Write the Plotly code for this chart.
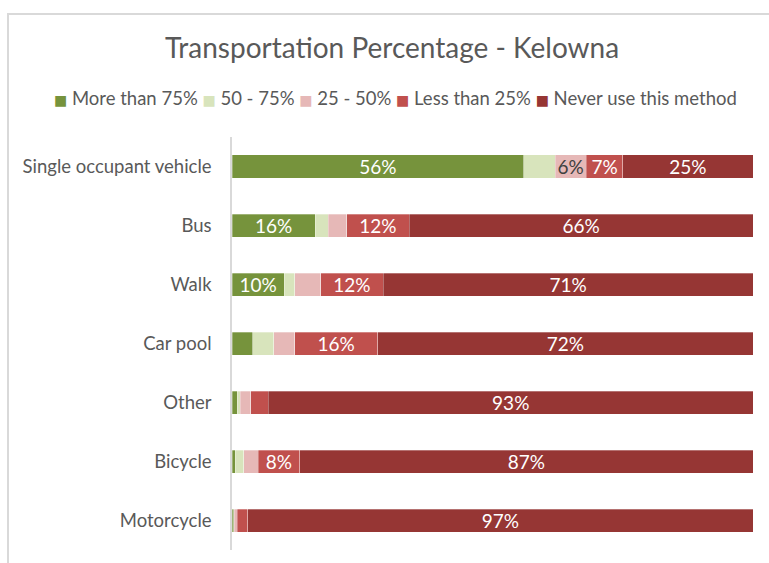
import plotly.graph_objects as go

# Survey: share of respondents by how often they use each transportation mode
categories = [
    "Single occupant vehicle",
    "Bus",
    "Walk",
    "Car pool",
    "Other",
    "Bicycle",
    "Motorcycle",
]

more_than_75 = [56, 16, 10, 4, 1, 0.6, 0.3]
between_50_75 = [6, 2.5, 2, 4, 0.6, 1.7, 0.1]
between_25_50 = [6, 3.5, 5, 4, 2, 2.7, 0.6]
less_than_25 = [7, 12, 12, 16, 3.4, 8, 2]
never_use = [25, 66, 71, 72, 93, 87, 97]

series_names = ["More than 75%", "50 - 75%", "25 - 50%", "Less than 25%", "Never use this method"]
series_values = [more_than_75, between_50_75, between_25_50, less_than_25, never_use]
series_colors = ["#76933C", "#D8E4BC", "#E6B8B7", "#C0504D", "#963634"]
label_colors = ["#FFFFFF", "#404040", "#404040", "#FFFFFF", "#FFFFFF"]
labels_on = [True, False, True, True, True]

FONT = "Lato, Carlito, Calibri, sans-serif"
GREY = "#595959"
W, H = 769, 563
L, R, T, B = 232, 16, 137, 13

fig = go.Figure()
for name, vals, color, tcolor, show in zip(series_names, series_values, series_colors,
                                           label_colors, labels_on):
    text = [f"{v:g}%" if (show and v >= 6) else "" for v in vals]
    fig.add_trace(go.Bar(
        y=categories,
        x=vals,
        name=name,
        orientation="h",
        marker=dict(color=color, line=dict(color="rgba(255,255,255,0.5)", width=0.6)),
        text=text,
        textposition="inside",
        insidetextanchor="middle",
        textangle=0,
        constraintext="none",
        textfont=dict(family=FONT, size=19, color=tcolor),
        hoverinfo="name+x",
        showlegend=False,
    ))

# Legend row: coloured squares followed by the series names
legend_parts = []
for name, color in zip(series_names, series_colors):
    legend_parts.append(
        f'<span style="color:{color};font-family:DejaVu Sans;font-size:14px">■</span> {name}'
    )
legend_text = " ".join(legend_parts)

plot_w = W - L - R
plot_h = H - T - B


def px_x(px):
    return (px - L) / plot_w


def px_y(py):
    return (H - B - py) / plot_h


fig.update_layout(
    width=W,
    height=H,
    autosize=False,
    margin=dict(l=L, r=R, t=T, b=B),
    paper_bgcolor="white",
    plot_bgcolor="white",
    barmode="stack",
    bargap=0.61,
    font=dict(family=FONT, color=GREY, size=18.5),
    title=dict(
        text="Transportation Percentage - Kelowna",
        font=dict(family=FONT, size=28, color=GREY),
        xref="container", x=392 / W, xanchor="center",
        yref="container", y=1 - 48 / H, yanchor="middle",
    ),
    xaxis=dict(range=[0, 100], visible=False, fixedrange=True),
    yaxis=dict(
        categoryorder="array",
        categoryarray=categories,
        autorange="reversed",
        showline=True,
        linecolor="#D9D9D9",
        linewidth=1.5,
        showgrid=False,
        ticks="",
        ticklabelstandoff=15,
        tickfont=dict(family=FONT, size=18.5, color=GREY),
        fixedrange=True,
    ),
    annotations=[dict(
        text=legend_text,
        xref="paper", yref="paper",
        x=px_x(395), y=px_y(98),
        xanchor="center", yanchor="middle",
        showarrow=False,
        font=dict(family=FONT, size=18.5, color=GREY),
    )],
    shapes=[dict(
        type="rect", xref="paper", yref="paper",
        x0=px_x(8), x1=px_x(W + 10),
        y0=px_y(H + 10), y1=px_y(14),
        line=dict(color="#D9D9D9", width=2),
        fillcolor="rgba(0,0,0,0)",
        layer="below",
    )],
)

fig.write_html("out.html")
